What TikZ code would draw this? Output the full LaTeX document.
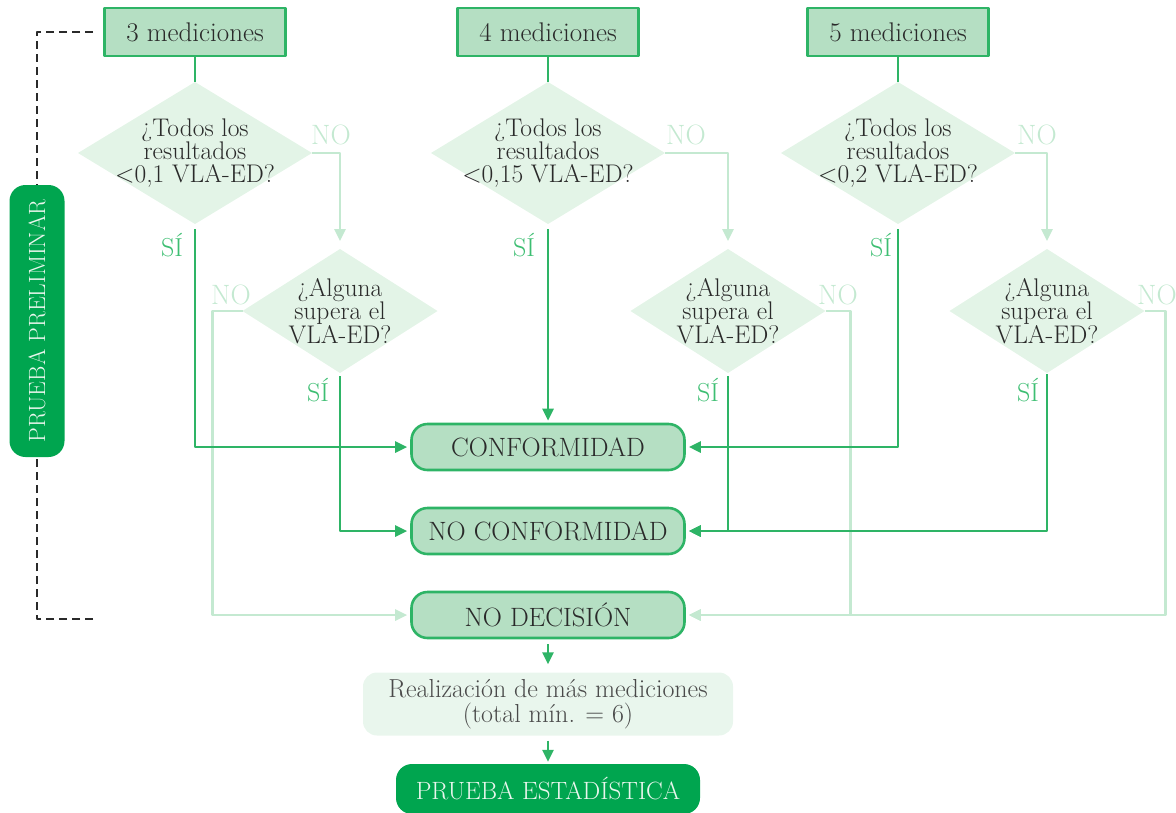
\documentclass[tikz,border=0pt]{standalone}
\usetikzlibrary{shapes.geometric,arrows.meta}
\definecolor{verde}{HTML}{2EB466}
\definecolor{verdeosc}{HTML}{00A54F}
\definecolor{verdecaja}{HTML}{B5DFC3}
\definecolor{verdeclaro}{HTML}{E3F4E7}
\definecolor{verdemas}{HTML}{E9F6ED}
\definecolor{verdedebil}{HTML}{C4E9D1}
\definecolor{verdesi}{HTML}{3DBE72}
\definecolor{texto}{HTML}{2A2A2A}
\tikzset{
  medbox/.style={draw=verde, line width=2.6pt, fill=verdecaja, text=texto, minimum width=181pt, minimum height=48pt, font=\fontsize{27}{27}\selectfont},
  todos/.style={diamond, aspect=1.65, fill=verdeclaro, text=texto, inner sep=-14pt, outer sep=0pt, minimum width=234pt, minimum height=142pt, align=center, font=\fontsize{25.5}{23}\selectfont},
  alguna/.style={todos, minimum width=195pt, minimum height=124pt},
  resbox/.style={draw=verde, line width=2.6pt, fill=verdecaja, text=texto, rounded corners=16pt, minimum width=273pt, minimum height=46pt, font=\fontsize{26.5}{26}\selectfont},
  masbox/.style={fill=verdemas, rounded corners=14pt, text=texto!85, minimum width=370pt, minimum height=63pt, align=center, font=\fontsize{26}{25}\selectfont},
  darkbox/.style={fill=verdeosc, rounded corners=16pt, text=verdemas},
  fuerte/.style={draw=verde, line width=2.6pt},
  debil/.style={draw=verdedebil, line width=2.6pt},
  nolab/.style={text=verdedebil, font=\fontsize{28}{28}\selectfont},
  silab/.style={text=verdesi, font=\fontsize{26}{26}\selectfont},
  rayas/.style={draw=texto, line width=1.8pt, dash pattern=on 8pt off 5pt}
}
\begin{document}
\begin{tikzpicture}[x=1pt, y=-1pt, line join=round, >={Triangle[length=12pt,width=11pt]}]
  \useasboundingbox (0,0) rectangle (1176,812);
  % mediciones
  \node[medbox] (m3) at (195,32) {3 mediciones};
  \node[medbox] (m4) at (548,32) {4 mediciones};
  \node[medbox] (m5) at (898,32) {5 mediciones};
  % preguntas
  \node[todos] (t3) at (195,153) {¿Todos los\\resultados\\<0,1 VLA-ED?};
  \node[todos] (t4) at (548,153) {¿Todos los\\resultados\\<0,15 VLA-ED?};
  \node[todos] (t5) at (898,153) {¿Todos los\\resultados\\<0,2 VLA-ED?};
  \node[alguna] (a3) at (340,311) {¿Alguna\\supera el\\VLA-ED?};
  \node[alguna] (a4) at (728,311) {¿Alguna\\supera el\\VLA-ED?};
  \node[alguna] (a5) at (1047,311) {¿Alguna\\supera el\\VLA-ED?};
  % resultados
  \node[resbox] (conf) at (548,447) {CONFORMIDAD};
  \node[resbox] (noconf) at (548,531) {NO CONFORMIDAD};
  \node[resbox] (nodec) at (548,615) {NO DECISIÓN};
  \node[masbox] (mas) at (548,704) {Realización de más mediciones\\(total mín. = 6)};
  \node[darkbox, minimum width=304pt, minimum height=50pt, font=\fontsize{25}{25}\selectfont] (estad) at (548,789) {PRUEBA ESTADÍSTICA};
  \node[darkbox, rotate=90, minimum width=272pt, minimum height=55pt, font=\fontsize{23.5}{24}\selectfont] (prelim) at (37,321) {PRUEBA PRELIMINAR};
  % prueba preliminar
  \coordinate (ptop) at (93,32);
  \coordinate (pbot) at (93,619);
  \draw[rayas] (ptop) -| (prelim.east);
  \draw[rayas] (pbot) -| (prelim.west);
  % ramas NO
  \draw[debil,->,shorten >=8pt] (t3.east) -| (a3.north);
  \draw[debil,->,shorten >=8pt] (t4.east) -| (a4.north);
  \draw[debil,->,shorten >=8pt] (t5.east) -| (a5.north);
  \draw[debil,->,shorten >=3pt] (a3.west) -- ++(-30,0) |- (nodec.west);
  \draw[debil,->,shorten >=3pt] (a4.east) -- ++(25,0) |- (nodec.east);
  \draw[debil,->,shorten >=3pt] (a5.east) -- ++(21,0) |- (nodec.east);
  % ramas SI
  \draw[fuerte] (m3.south) -- (t3.north);
  \draw[fuerte] (m4.south) -- (t4.north);
  \draw[fuerte] (m5.south) -- (t5.north);
  \draw[fuerte,->,shorten <=5pt,shorten >=3pt] (t3.south) |- (conf.west);
  \draw[fuerte,->,shorten <=5pt,shorten >=2pt] (t4.south) -- (conf.north);
  \draw[fuerte,->,shorten <=5pt,shorten >=3pt] (t5.south) |- (conf.east);
  \draw[fuerte,->,shorten <=3pt,shorten >=3pt] (a3.south) |- (noconf.west);
  \draw[fuerte,->,shorten <=3pt,shorten >=3pt] (a4.south) |- (noconf.east);
  \draw[fuerte,->,shorten <=1pt,shorten >=3pt] (a5.south) |- (noconf.east);
  \draw[fuerte,->,shorten <=5pt,shorten >=8pt] (nodec.south) -- (mas.north);
  \draw[fuerte,->,shorten <=5pt,shorten >=2pt] (mas.south) -- (estad.north);
  % etiquetas
  \node[nolab] at (331,135) {NO};
  \node[nolab] at (686,135) {NO};
  \node[nolab] at (1037,135) {NO};
  \node[nolab] at (231,295) {NO};
  \node[nolab] at (838,295) {NO};
  \node[nolab] at (1157,295) {NO};
  \node[silab] at (172,245) {SÍ};
  \node[silab] at (524,245) {SÍ};
  \node[silab] at (881,245) {SÍ};
  \node[silab] at (318,390) {SÍ};
  \node[silab] at (708,390) {SÍ};
  \node[silab] at (1028,390) {SÍ};
\end{tikzpicture}
\end{document}
